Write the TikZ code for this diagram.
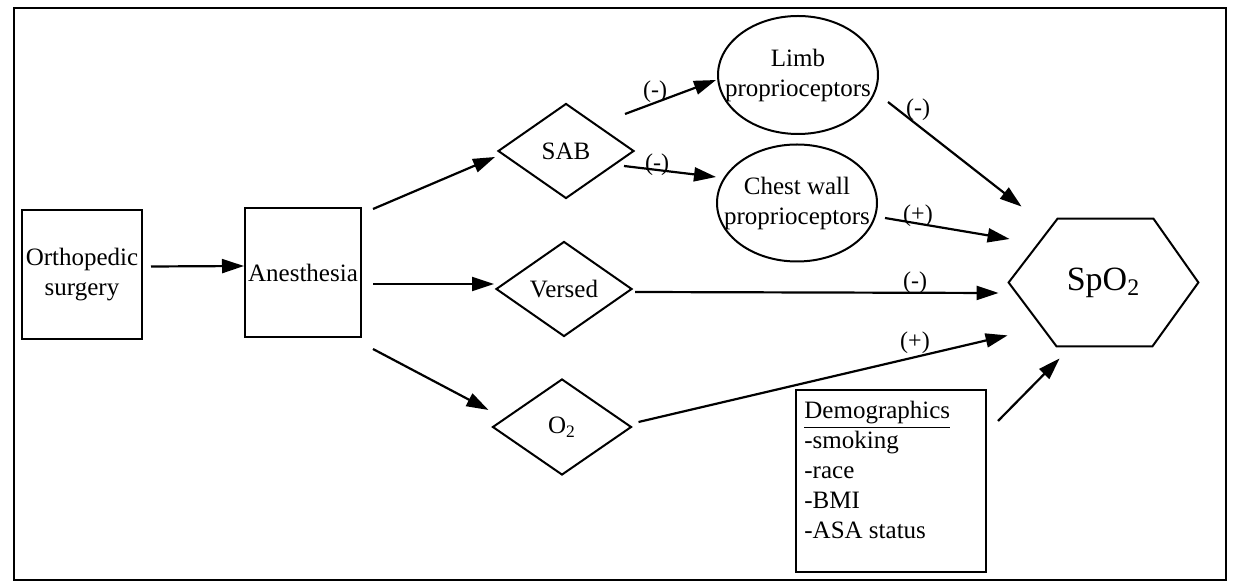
\documentclass[tikz,border=0pt]{standalone}
\usepackage{fontspec}
\setmainfont{Liberation Serif}
\usetikzlibrary{shapes.geometric,arrows.meta,calc}
\begin{document}
\begin{tikzpicture}[x=0.5pt,y=-0.5pt,
  every node/.style={font=\fontsize{12.5}{15}\selectfont, inner sep=0pt},
  box/.style={draw, line width=1pt, rectangle},
  dia/.style={draw, line width=1pt, diamond, minimum width=68pt, minimum height=47.5pt},
  ell/.style={draw, line width=1pt, ellipse, inner xsep=-9pt, minimum width=80pt, minimum height=59pt, align=center},
  arr/.style={line width=1.1pt, -{Triangle[length=11pt,width=7pt]}},
  sgn/.style={font=\fontsize{12}{14}\selectfont}
]
\useasboundingbox (0,0) rectangle (1238,582);
\draw[line width=1pt] (14,8) rectangle (1226,580);

\node[box, minimum width=60pt, minimum height=64.5pt, align=center] (ortho) at (82,274.5) {Orthopedic\\surgery};
\node[box, minimum width=58pt, minimum height=64.5pt] (anes) at (303,272.5) {Anesthesia};
\node[dia] (sab) at (566,151) {SAB};
\node[dia] (versed) at (564,289) {Versed};
\node[dia, minimum width=69.5pt, minimum height=48pt] (o2) at (562,427) {O\textsubscript{2}};
\node[ell] (limb) at (798,75) {Limb\\proprioceptors};
\node[ell, minimum height=58.5pt] (chest) at (797,203) {Chest wall\\proprioceptors};

\node[minimum width=94.5pt, minimum height=63.5pt, font=\fontsize{17}{20}\selectfont] (spo2) at (1103.5,282.5) {SpO\textsubscript{2}};
\draw[line width=1pt] (spo2.west) -- ($(spo2.north west)+(49,0)$) -- ($(spo2.north east)+(-45,0)$) -- (spo2.east) -- ($(spo2.south east)+(-46,0)$) -- ($(spo2.south west)+(48,0)$) -- cycle;

\node[box, minimum width=95pt, minimum height=91pt] (demo) at (891,481) {};
\node[anchor=north west, align=left] (demotext) at ($(demo.north west)+(9,12)$) {\underline{Demographics}\\-smoking\\-race\\-BMI\\-ASA status};

\draw[arr] ($(ortho.east)+(8,-8)$) -- ($(anes.west)+(0,-6.5)$);
\draw[arr] ($(anes.north east)+(11,2)$) -- ($(sab.west)+(-2,6)$);
\draw[arr] ($(anes.east)+(11,11.5)$) -- ($(versed.west)+(-1,-5)$);
\draw[arr] ($(anes.south east)+(11,11)$) -- ($(o2.west)+(-3,-17)$);
\draw[arr] ($(sab.east)+(-10,-37)$) -- ($(limb.west)+(-1,5)$);
\draw[arr] ($(sab.east)+(-11,15)$) -- ($(chest.west)+(0,-26)$);
\draw[arr] ($(limb.east)+(9,27)$) -- ($(spo2.north west)+(13,-12)$);
\draw[arr] ($(chest.east)+(7,15)$) -- ($(spo2.west)+(1,-43.5)$);
\draw[arr] ($(versed.east)+(2,3)$) -- ($(spo2.west)+(-10,10.5)$);
\draw[arr] ($(o2.east)+(6,-5)$) -- ($(spo2.south west)+(-1,-11)$);
\draw[arr] ($(demo.north east)+(11,32)$) -- ($(spo2.south west)+(51,12)$);

\node[sgn] (s1) at (655,92) {(-)};
\node[sgn] (s2) at (657,165) {(-)};
\node[sgn] (s3) at (918,110) {(-)};
\node[sgn] (s4) at (918,216) {(+)};
\node[sgn] (s5) at (915,283) {(-)};
\node[sgn] (s6) at (915,343) {(+)};
\end{tikzpicture}
\end{document}
